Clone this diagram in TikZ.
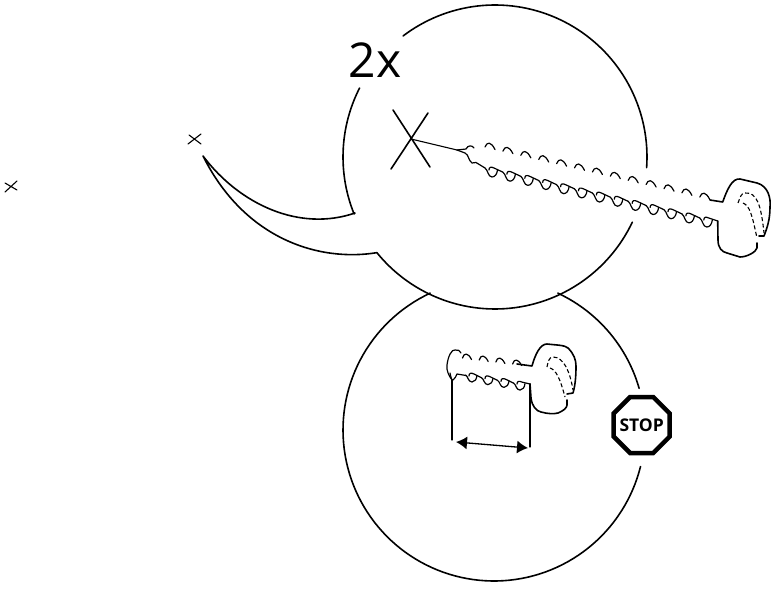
\documentclass[tikz,border=0pt]{standalone}
\usepackage{fontspec}
\setmainfont{Open Sans}
\usetikzlibrary{arrows.meta}
\tikzset{
  ink/.style={line width=1.6bp,line join=round,line cap=round,black},
  thin ink/.style={line width=1.1bp,line cap=round,black},
  dash ink/.style={line width=1.1bp,dash pattern=on 4bp off 2.5bp,black},
  thread/.style={line width=1.2bp,line join=round,line cap=round,black},
}
\begin{document}
\begin{tikzpicture}[x=1bp,y=-1bp]
\useasboundingbox (0,0) rectangle (779,589);
% named points
\coordinate (tip) at (203,156);
\coordinate (cA) at (378,252);
\coordinate (cB) at (355,213);
\coordinate (xc) at (411,139);
\coordinate (bigTip) at (457,150);
\coordinate (lA) at (452,380);
\coordinate (lB) at (452,440);
\coordinate (rA) at (530,384);
\coordinate (rB) at (530,447);
\coordinate (arL) at (456,442);
\coordinate (arR) at (528,448);
% top circle with speech tail
\draw[ink] plot[domain=25.4:141,samples=60] ({495+152*cos(\x)},{157+152*sin(\x)})
  .. controls (320,262) and (245,240) .. (tip)
  .. controls (240,205) and (300,232) .. (cB)
  -- plot[domain=158:207,samples=30] ({495+152*cos(\x)},{157+152*sin(\x)});
\draw[ink] plot[domain=232.8:364,samples=70] ({495+152*cos(\x)},{157+152*sin(\x)});
% lower circle
\draw[ink] plot[domain=-65:-16,samples=30] ({494+151*cos(\x)},{430+151*sin(\x)});
\draw[ink] plot[domain=14:245,samples=100] ({494+151*cos(\x)},{430+151*sin(\x)});
% crosses
\draw[thin ink] (188,144) -- (201,134) (189,135) -- (201,144);
\draw[thin ink] (5,192) -- (17,181) (5,183) -- (17,190);
\draw[ink] (393,110) -- (430,167) (391,169) -- (428,113);
% big screw
\draw[thin ink] (xc) -- (bigTip);
\draw[thread] (bigTip) -- (466,149) .. controls (468,145) and (472,145) .. (474,148);
\foreach \i in {0,...,12}{
  \pgfmathsetmacro\bx{490+17.9*\i}\pgfmathsetmacro\by{145+4.17*\i}
  \draw[thread] (\bx-5,\by+2) .. controls (\bx-3,\by-3.5) and (\bx+1,\by-3.5) .. (\bx+5,\by+4.5);
}
\draw[thread] (bigTip) -- (465,153) .. controls (469,155) and (468,160) .. (472,163) -- (476,162.5) -- (485,168);
\foreach \i in {0,...,12}{
  \pgfmathsetmacro\ux{492+17.9*\i}\pgfmathsetmacro\uy{175+4.17*\i}
  \draw[thread] (\ux-7,\uy-7) .. controls (\ux-4,\uy-5) and (\ux-4,\uy+2) .. (\ux,\uy+2)
     .. controls (\ux+3,\uy+2) and (\ux+5,\uy-1) .. (\ux+5.5,\uy-5);
  \ifnum\i<12
  \draw[thread] (\ux-3,\uy-5) .. controls (\ux-3,\uy-8) and (\ux-1,\uy-8.5) .. (\ux+2,\uy-7) -- (\ux+10.9,\uy-2.83);
  \else
  \draw[thread] (\ux-3,\uy-5) .. controls (\ux-3,\uy-8) and (\ux-1,\uy-8.5) .. (\ux+2,\uy-7) -- (717.7,221);
  \fi
}
\draw[ink] (710,200) -- (722.7,202) .. controls (727,190) and (732,178) .. (740,179)
  -- (757,183) .. controls (768,186) and (771,198) .. (770,207)
  .. controls (770,220) and (767,228) .. (764,236) -- (759,236);
\draw[ink] (717.7,221) -- (718,240) .. controls (718,248) and (722,252) .. (727,253)
  -- (740,257) .. controls (747,257) and (756,252) .. (757,248) -- (757,243);
\draw[dash ink] (738,203) .. controls (740,198) and (741,193) .. (745,193)
  .. controls (757,192) and (761,205) .. (764,233);
\draw[dash ink] (743,203) .. controls (750,206) and (752,215) .. (757,238);
% small screw
\draw[thread] (lA) .. controls (449,376) and (446,370) .. (447,365)
  .. controls (448,356) and (452,349) .. (455,350) .. controls (458,349) and (460,351) .. (461,353);
\foreach \i in {0,...,3}{
  \pgfmathsetmacro\bx{467+16.7*\i}\pgfmathsetmacro\by{356+2*\i}
  \draw[thread] (\bx-4.5,\by+2) .. controls (\bx-3,\by-3.5) and (\bx+1,\by-3.5) .. (\bx+4.5,\by+3.5);
}
\draw[thread] (450,373) .. controls (451,378) and (452,381) .. (453,380) .. controls (455,379) and (456,376) .. (457,374) -- (466,375.5);
\foreach \i in {0,...,3}{
  \pgfmathsetmacro\ux{472+16*\i}\pgfmathsetmacro\uy{380+2.7*\i}
  \draw[thread] (\ux-6.5,\uy-5) .. controls (\ux-4,\uy-4) and (\ux-4,\uy+2) .. (\ux,\uy+2)
     .. controls (\ux+3,\uy+2) and (\ux+4.5,\uy-1) .. (\ux+5,\uy-4.5);
  \ifnum\i<3
  \draw[thread] (\ux-3,\uy-4) .. controls (\ux-3,\uy-7) and (\ux-1,\uy-7.5) .. (\ux+2,\uy-6) -- (\ux+9.5,\uy-2.3);
  \else
  \draw[thread] (\ux-3,\uy-4) .. controls (\ux-3,\uy-7) and (\ux-1,\uy-7.5) .. (\ux+2,\uy-6) -- (rA);
  \fi
}
\draw[ink] (517,364) -- (532,366) .. controls (535,355) and (540,344) .. (547,344)
  .. controls (555,345) and (565,345) .. (568,348) .. controls (574,354) and (576,360) .. (576,366)
  .. controls (576,378) and (575,386) .. (573,393) -- (567,394);
\draw[ink] (rA) -- (531,398) .. controls (532,406) and (536,411) .. (541,412)
  .. controls (548,414) and (554,414) .. (558,413) .. controls (563,411) and (567,408) .. (567,405) -- (567,400);
\draw[dash ink] (547,367) .. controls (548,362) and (549,357) .. (553,357)
  .. controls (564,357) and (570,372) .. (573,390);
\draw[dash ink] (550,368) .. controls (556,370) and (560,378) .. (565,397);
% dimension
\draw[thin ink] (lA) -- (lB);
\draw[thin ink] (rA) -- (rB);
\draw[line width=1.3bp,{Latex[length=11bp,width=13bp]}-{Latex[length=11bp,width=13bp]}] (arL) -- (arR);
% stop sign
\node[inner sep=0pt] (stop) at (641.7,425) {\fontsize{17.5bp}{17.5bp}\selectfont\bfseries STOP};
\draw[line width=4.5bp,line join=miter,black]
  (641.7-11.6,425-28) -- (641.7+11.6,425-28) -- (641.7+28,425-11.6) -- (641.7+28,425+11.6)
  -- (641.7+11.6,425+28) -- (641.7-11.6,425+28) -- (641.7-28,425+11.6) -- (641.7-28,425-11.6) -- cycle;
% label
\node[inner sep=0pt] (twox) at (375,60) {\fontsize{48bp}{48bp}\selectfont 2x};
\end{tikzpicture}
\end{document}
